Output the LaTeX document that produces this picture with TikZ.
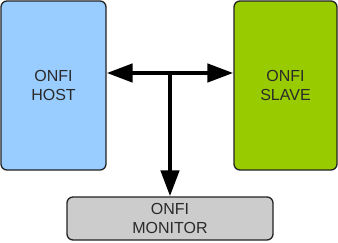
\documentclass[tikz,border=0pt]{standalone}
\usepackage{fontspec}
\setmainfont{Liberation Sans}
\usetikzlibrary{arrows.meta}
\definecolor{hostfill}{HTML}{99CCFF}
\definecolor{slavefill}{HTML}{99CC00}
\definecolor{monfill}{HTML}{CCCCCC}
\definecolor{edgedark}{HTML}{222222}
\definecolor{lbltext}{HTML}{2A2A2A}
\tikzset{
  blk/.style={draw=edgedark, line width=1.3pt, rounded corners=6pt, inner sep=0pt, align=center, text=lbltext, font=\fontsize{16}{19.5}\selectfont},
  bus/.style={draw=black, line width=4.5pt, {Triangle[length=26pt, width=18pt]}-{Triangle[length=26pt, width=18pt]}},
  tap/.style={draw=black, line width=4.5pt, -{Triangle[length=26pt, width=18pt]}},
}

\begin{document}
\begin{tikzpicture}[x=1pt,y=1pt]
  \useasboundingbox (0,0) rectangle (338,242);
  \node[blk, fill=hostfill, minimum width=105pt, minimum height=169pt] (host) at (53.5,156.5) {ONFI\\HOST};
  \node[blk, fill=slavefill, minimum width=103pt, minimum height=169pt] (slave) at (285.5,156.5) {ONFI\\SLAVE};
  \node[blk, fill=monfill, minimum width=206pt, minimum height=43pt] (mon) at (170,23.5) {ONFI\\MONITOR};
  \coordinate (jn) at (170,169);
  \draw[bus] (host.east |- jn) -- (slave.west |- jn);
  \draw[tap] (jn) -- (mon.north);
\end{tikzpicture}
\end{document}
